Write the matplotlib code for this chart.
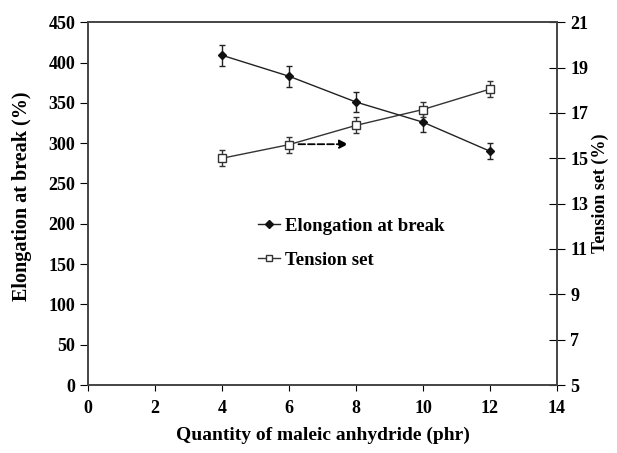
import matplotlib
matplotlib.use("Agg")
import matplotlib.pyplot as plt
from matplotlib.lines import Line2D

plt.rcParams["font.family"] = ["Liberation Serif", "DejaVu Serif"]
plt.rcParams["font.weight"] = "bold"

# donnees
maleic = [4, 6, 8, 10, 12]
elongation = [409, 383, 351, 326, 290]
elongation_err = [13, 13, 12, 12, 10]
tension_set = [15.0, 15.6, 16.45, 17.15, 18.05]
tension_err = [0.35, 0.35, 0.35, 0.35, 0.35]

fig = plt.figure(figsize=(6.17, 4.53), dpi=100)
ax = fig.add_axes([0.1426, 0.150, 0.7601, 0.801])
ax2 = ax.twinx()

ax.errorbar(maleic, elongation, yerr=elongation_err, color="#222222", lw=1.0,
            marker="D", ms=4.5, mfc="#111111", mec="#111111", capsize=2.5,
            elinewidth=1.0)
ax2.errorbar(maleic, tension_set, yerr=tension_err, color="#333333", lw=1.0,
             marker="s", ms=5.5, mfc="white", mec="#333333", capsize=2.5,
             elinewidth=1.0)

# fleche pointillee
ax2.annotate("", xy=(7.85, 15.62), xytext=(6.2, 15.62),
             arrowprops=dict(arrowstyle="-|>", linestyle="--", color="black",
                             lw=1.3, mutation_scale=13))

ax.set_xlim(0, 14)
ax.set_ylim(0, 450)
ax2.set_ylim(5, 21)
ax.set_xticks(range(0, 15, 2))
ax.set_yticks(range(0, 451, 50))
ax2.set_yticks(range(5, 22, 2))

for a in (ax, ax2):
    for s in a.spines.values():
        s.set_color("#444444")
        s.set_linewidth(1.2)
ax.tick_params(axis="x", direction="out", length=4, labelsize=13, pad=7)
ax.tick_params(axis="y", direction="out", length=6, labelsize=13, pad=3)
ax2.tick_params(axis="y", direction="inout", length=11, labelsize=13, pad=4)

ax.set_xlabel("Quantity of maleic anhydride (phr)", fontsize=14, fontweight="bold", labelpad=7)
ax.set_ylabel("Elongation at break (%)", fontsize=14.5, fontweight="bold")
ax2.set_ylabel("Tension set (%)", fontsize=13, fontweight="bold")
ax.yaxis.set_label_coords(-0.119, 0.52)
ax2.yaxis.set_label_coords(1.0746, 0.529)

handles = [
    Line2D([], [], color="#222222", lw=1.0, marker="D", ms=4, mfc="#111111", mec="#111111"),
    Line2D([], [], color="#333333", lw=1.0, marker="s", ms=5, mfc="white", mec="#333333"),
]
labels = ["Elongation at break", "Tension set"]
ax.legend(handles, labels, loc="upper left", bbox_to_anchor=(0.3625, 0.462),
          frameon=False, handlelength=1.15, labelspacing=0.92, borderpad=0,
          borderaxespad=0, handletextpad=0.3, prop={"weight": "bold", "size": 13.5})

fig.savefig("out.png", dpi=100)
